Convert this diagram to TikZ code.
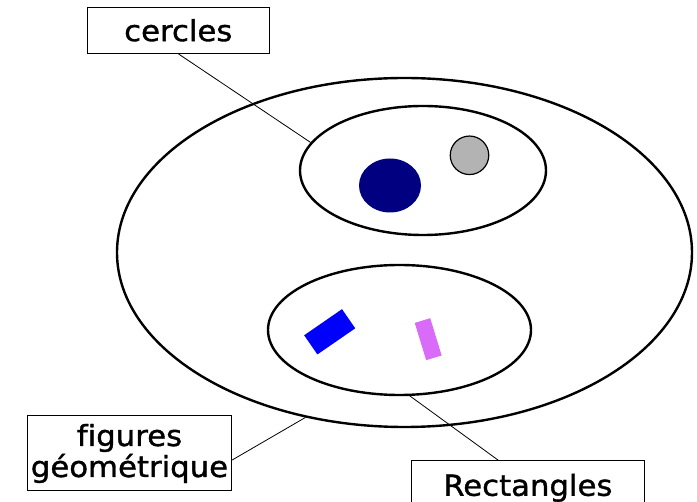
\documentclass[tikz,border=0pt]{standalone}
\usepackage{fontspec}
\newfontfamily\lblfont[FakeStretch=1.06, FakeBold=1.2, Ligatures=NoCommon]{DejaVu Sans}
\usetikzlibrary{shapes.geometric}
\definecolor{navyfill}{HTML}{000080}
\definecolor{greyfill}{HTML}{B3B3B3}
\definecolor{bluefill}{HTML}{0000FF}
\definecolor{pinkfill}{HTML}{D86BF8}
\tikzset{
  setline/.style={ellipse, draw, line width=2.4pt, inner sep=0pt},
  label box/.style={draw, line width=1pt, rectangle, inner sep=0pt,
    font=\lblfont\fontsize{29}{31}\selectfont, align=center},
  leader/.style={line width=0.8pt},
  shapefill/.style={inner sep=0pt, draw=none},
}
\begin{document}
\begin{tikzpicture}[x=1pt,y=-1pt]
\useasboundingbox (0,0) rectangle (697,502);

% sets
\node[setline, minimum width=575, minimum height=349] (all) at (404.5,252.5) {};
\node[setline, minimum width=246, minimum height=129] (top) at (423,170.5) {};
\node[setline, minimum width=263, minimum height=130] (bot) at (399.5,330) {};

% elements of the sets
\node[ellipse, shapefill, fill=navyfill, minimum width=62, minimum height=54] (navy) at (390,185.5) {};
\node[circle, draw, line width=1.2pt, fill=greyfill, inner sep=0pt, minimum size=38.5] (grey) at (469.5,155.3) {};
\node[rectangle, shapefill, fill=bluefill, minimum width=46, minimum height=23.3, rotate=34.6] (bluerect) at (329.7,331.8) {};
\node[rectangle, shapefill, fill=pinkfill, minimum width=16.2, minimum height=39, rotate=17] (pinkrect) at (428.2,339.2) {};

% labels
\node[label box, minimum width=182, minimum height=46] (cercles) at (178.3,30.3) {cercles};
\node[label box, minimum width=204.4, minimum height=75] (figs) at (129.5,453.5) {figures\\géométrique};
\node[label box, minimum width=232.3, minimum height=54, anchor=north] (rects) at (527.85,460.3) {Rectangles};

% leader lines
\draw[leader] (cercles.south) -- (top.166);
\draw[leader] ([yshift=-6.5pt]figs.east) -- (all.239.4);
\draw[leader] ([xshift=-29.5pt]rects.north) -- (bot.279.6);
\end{tikzpicture}
\end{document}
